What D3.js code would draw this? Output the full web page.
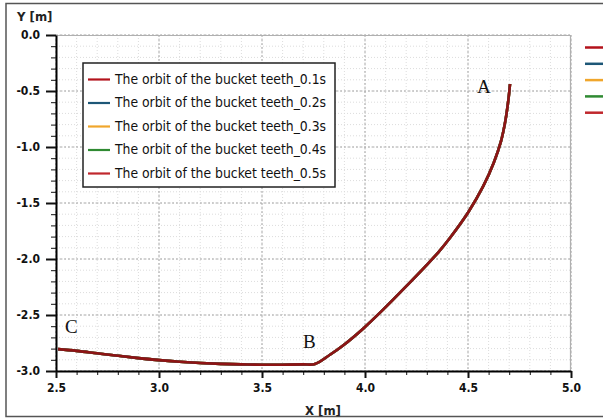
<!DOCTYPE html>
<html>
<head>
<meta charset="utf-8">
<script src="https://cdn.jsdelivr.net/npm/d3@7"></script>
<style>
  body { margin: 0; background: #fff; }
  svg { display: block; }
  .tick text { font-family: "DejaVu Sans Condensed", "DejaVu Sans", sans-serif; font-stretch: condensed; font-weight: bold; font-size: 12px; fill: #111; }
  .legendText { font-family: "DejaVu Sans Condensed", "DejaVu Sans", sans-serif; font-stretch: condensed; font-size: 13.8px; fill: #111; }
  .label { font-family: "DejaVu Sans Condensed", "DejaVu Sans", sans-serif; font-stretch: condensed; font-weight: bold; font-size: 13px; fill: #222; }
  .mark { font-family: "Liberation Serif", "DejaVu Serif", serif; font-size: 19px; fill: #111; }
</style>
</head>
<body>
<div id="main"></div>
<script>
// data (all five runs lie on top of each other)
const seriesNames = [
  "The orbit of the bucket teeth_0.1s",
  "The orbit of the bucket teeth_0.2s",
  "The orbit of the bucket teeth_0.3s",
  "The orbit of the bucket teeth_0.4s",
  "The orbit of the bucket teeth_0.5s"
];
const seriesColors = ["#b3121b", "#1d5777", "#f0a62c", "#2f8a32", "#c0272d"];
const orbitX = [2.51, 2.6, 2.7, 2.8, 2.9, 3.0, 3.1, 3.2, 3.3, 3.4, 3.5, 3.6, 3.7, 3.757,
  3.83, 3.895, 3.992, 4.089, 4.202, 4.291, 4.356, 4.413, 4.502, 4.574, 4.625, 4.66, 4.682, 4.696, 4.704];
const orbitY = [-2.805, -2.82, -2.842, -2.864, -2.885, -2.903, -2.917, -2.928, -2.936, -2.941, -2.944, -2.944, -2.941, -2.9375,
  -2.855, -2.77, -2.62, -2.45, -2.24, -2.07, -1.94, -1.81, -1.58, -1.35, -1.14, -0.95, -0.76, -0.58, -0.4375];
const xTicks = [2.5, 3.0, 3.5, 4.0, 4.5, 5.0];
const yTicks = [0.0, -0.5, -1.0, -1.5, -2.0, -2.5, -3.0];
const pointLabels = ["A", "B", "C"];
const pointLabelAt = [[4.544, -0.518], [3.699, -2.795], [2.544, -2.661]];

function main() {
  const svgWidth = 603;
  const svgHeight = 420;
  const plotLeft = 56, plotRight = 571, plotTop = 35, plotBottom = 371;

  var svg = d3.select("#main")
    .append("svg")
    .attr("width", svgWidth)
    .attr("height", svgHeight);

  // outer frame
  svg.append("rect")
    .attr("x", 6).attr("y", 3.5)
    .attr("width", 610).attr("height", 413)
    .attr("fill", "none")
    .attr("stroke", "#555")
    .attr("stroke-width", 1.5);

  var scaleX = d3.scaleLinear().domain([2.5, 5.0]).range([plotLeft, plotRight]);
  var scaleY = d3.scaleLinear().domain([-3.0, 0.0]).range([plotBottom, plotTop]);

  // ------------  GRID  ------------
  const minorX = d3.range(25, 51).map(d => d / 10);
  const minorY = d3.range(-30, 1).map(d => d / 10);
  const grid = svg.append("g");
  grid.selectAll(".gxm").data(minorX).enter().append("line")
    .attr("x1", d => scaleX(d)).attr("x2", d => scaleX(d))
    .attr("y1", plotTop).attr("y2", plotBottom)
    .attr("stroke", "#dcdcdc").attr("stroke-dasharray", "1,2");
  grid.selectAll(".gym").data(minorY).enter().append("line")
    .attr("x1", plotLeft).attr("x2", plotRight)
    .attr("y1", d => scaleY(d)).attr("y2", d => scaleY(d))
    .attr("stroke", "#dcdcdc").attr("stroke-dasharray", "1,2");
  grid.selectAll(".gx").data(xTicks).enter().append("line")
    .attr("x1", d => scaleX(d)).attr("x2", d => scaleX(d))
    .attr("y1", plotTop).attr("y2", plotBottom)
    .attr("stroke", "#a8a8a8").attr("stroke-dasharray", "2,2");
  grid.selectAll(".gy").data(yTicks).enter().append("line")
    .attr("x1", plotLeft).attr("x2", plotRight)
    .attr("y1", d => scaleY(d)).attr("y2", d => scaleY(d))
    .attr("stroke", "#a8a8a8").attr("stroke-dasharray", "2,2");

  // plot border (top and right)
  svg.append("path")
    .attr("d", "M" + plotLeft + "," + (plotTop + 0.5) + "H" + (plotRight - 0.5) + "V" + plotBottom)
    .attr("fill", "none").attr("stroke", "#b0b0b0").attr("stroke-width", 1.2);

  // ------------  LINES  ------------
  const points = orbitX.map((x, i) => [x, orbitY[i]]);
  const line = d3.line()
    .x(d => scaleX(d[0]))
    .y(d => scaleY(d[1]))
    .curve(d3.curveCatmullRom.alpha(0.5));
  svg.append("g")
    .selectAll("path")
    .data(seriesNames.slice().reverse())
    .enter()
    .append("path")
    .attr("d", line(points))
    .attr("fill", "none")
    .attr("stroke", (d, i) => i == seriesNames.length - 1 ? "#8e1414" : seriesColors[seriesNames.length - 1 - i])
    .attr("stroke-width", 2.6)
    .attr("stroke-linejoin", "round");

  // ------------  AXIS  ------------
  svg.append("g")
    .attr("transform", "translate(0," + plotBottom + ")")
    .call(d3.axisBottom(scaleX).tickValues(minorX).tickSize(4).tickFormat(""))
    .call(g => g.select(".domain").remove());
  svg.append("g")
    .attr("transform", "translate(0," + plotBottom + ")")
    .call(d3.axisBottom(scaleX).tickValues(xTicks).tickSize(7).tickSizeOuter(0).tickPadding(5).tickFormat(d3.format(".1f")))
    .call(g => g.select(".domain").attr("stroke-width", 2))
    .call(g => g.selectAll(".tick line").attr("stroke-width", 2));

  svg.append("g")
    .attr("transform", "translate(" + plotLeft + ",0)")
    .call(d3.axisLeft(scaleY).tickValues(minorY).tickSize(5).tickFormat(""))
    .call(g => g.select(".domain").remove());
  svg.append("g")
    .attr("transform", "translate(" + plotLeft + ",0)")
    .call(d3.axisLeft(scaleY).tickValues(yTicks).tickSize(10).tickSizeOuter(0).tickPadding(6).tickFormat(d3.format(".1f")))
    .call(g => g.select(".domain").attr("stroke-width", 2))
    .call(g => g.selectAll(".tick line").attr("stroke-width", 2));
  svg.selectAll(".tick line").attr("stroke", "#111");
  svg.selectAll(".tick text").text(function () { return this.textContent.replace("−", "-"); });

  // ------------  LABELS  ------------
  svg.append("text").attr("class", "label").attr("x", 17).attr("y", 21).text("Y [m]");
  svg.append("text").attr("class", "label").attr("x", 305).attr("y", 415).text("X [m]");

  svg.append("g").selectAll("text")
    .data(pointLabels)
    .enter()
    .append("text")
    .attr("class", "mark")
    .attr("x", (d, i) => scaleX(pointLabelAt[i][0]))
    .attr("y", (d, i) => scaleY(pointLabelAt[i][1]))
    .text(d => d);

  // ------------  LEGEND  ------------
  const legX = 83, legY = 63, legW = 252, legH = 124, rowH = 23.5;
  const legend = svg.append("g");
  legend.append("rect")
    .attr("x", legX).attr("y", legY).attr("width", legW).attr("height", legH)
    .attr("fill", "#fff").attr("stroke", "#222").attr("stroke-width", 1.5);
  legend.selectAll("line")
    .data(seriesNames)
    .enter()
    .append("line")
    .attr("x1", legX + 5).attr("x2", legX + 27)
    .attr("y1", (d, i) => legY + 16.5 + rowH * i)
    .attr("y2", (d, i) => legY + 16.5 + rowH * i)
    .attr("stroke", (d, i) => seriesColors[i])
    .attr("stroke-width", 2.2);
  legend.selectAll("text")
    .data(seriesNames)
    .enter()
    .append("text")
    .attr("class", "legendText")
    .attr("x", legX + 32)
    .attr("y", (d, i) => legY + 16.5 + rowH * i)
    .attr("dominant-baseline", "middle")
    .text(d => d);

  // clipped legend swatches on the right edge
  svg.append("g").selectAll("line")
    .data(seriesColors)
    .enter()
    .append("line")
    .attr("x1", 585).attr("x2", 610)
    .attr("y1", (d, i) => 47.5 + 16.3 * i)
    .attr("y2", (d, i) => 47.5 + 16.3 * i)
    .attr("stroke", d => d)
    .attr("stroke-width", 2.5);
}
main();
</script>
</body>
</html>
